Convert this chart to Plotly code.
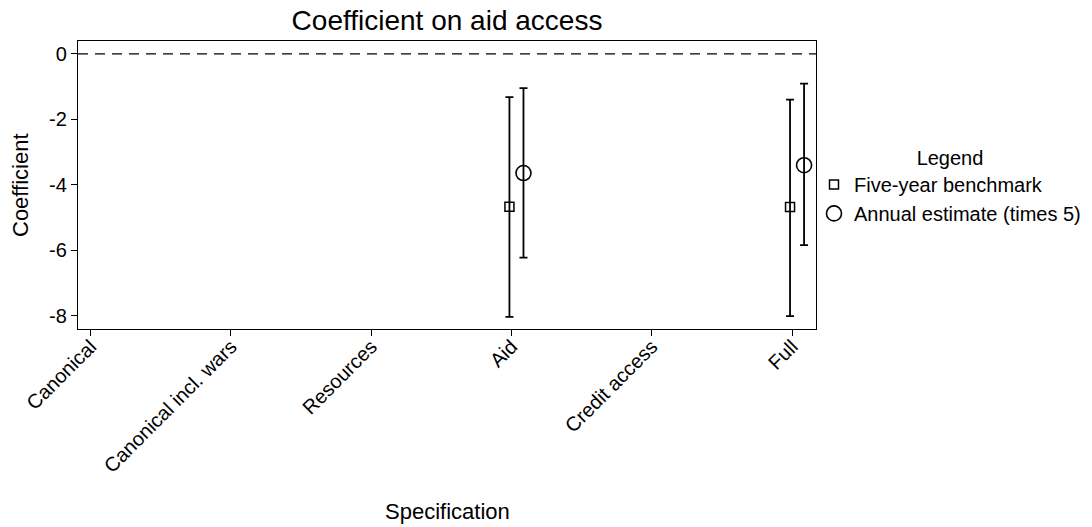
import plotly.graph_objects as go

categories = ["Canonical", "Canonical incl. wars", "Resources", "Aid", "Credit access", "Full"]
five_year = [None, None, None, -4.67, None, -4.68]
five_year_lo = [None, None, None, -8.03, None, -8.01]
five_year_hi = [None, None, None, -1.32, None, -1.40]
annual = [None, None, None, -3.64, None, -3.40]
annual_lo = [None, None, None, -6.22, None, -5.84]
annual_hi = [None, None, None, -1.05, None, -0.91]
y_ticks = [0, -2, -4, -6, -8]

FONT = "Liberation Sans, Arial, Helvetica, sans-serif"

def errs(v, lo, hi):
    plus = [None if x is None else h - x for x, h in zip(v, hi)]
    minus = [None if x is None else x - l for x, l in zip(v, lo)]
    return plus, minus

idx = list(range(len(categories)))
fp, fm = errs(five_year, five_year_lo, five_year_hi)
ap, am = errs(annual, annual_lo, annual_hi)

fig = go.Figure()
fig.add_trace(go.Scatter(
    x=[i - 0.015 for i in idx], y=five_year, mode="markers",
    name="Five-year benchmark",
    marker=dict(symbol="square-open", size=9, color="black", line=dict(width=1.5, color="black")),
    error_y=dict(type="data", array=fp, arrayminus=fm, color="black", thickness=1.8, width=4),
))
fig.add_trace(go.Scatter(
    x=[i + 0.085 for i in idx], y=annual, mode="markers",
    name="Annual estimate (times 5)",
    marker=dict(symbol="circle-open", size=15, color="black", line=dict(width=1.6, color="black")),
    error_y=dict(type="data", array=ap, arrayminus=am, color="black", thickness=1.8, width=4),
))

fig.add_shape(type="line", xref="paper", x0=0, x1=1, yref="y", y0=0, y1=0,
              line=dict(color="black", width=1.3, dash="10px,7px"))

fig.add_annotation(text="Specification", xref="paper", yref="paper",
                   x=0.5, y=-(511 - 329) / 288, xanchor="center", yanchor="middle",
                   showarrow=False, font=dict(size=22))
fig.add_annotation(text="Coefficient", xref="paper", yref="paper",
                   x=(20 - 78) / 738, y=0.5, xanchor="center", yanchor="middle",
                   textangle=-90, showarrow=False, font=dict(size=22))

fig.update_layout(
    width=1092, height=527,
    margin=dict(l=78, r=276, t=41, b=198, autoexpand=False),
    paper_bgcolor="white", plot_bgcolor="white",
    font=dict(family=FONT, size=20, color="black"),
    title=dict(text="Coefficient on aid access", x=447/1092, xanchor="center",
               y=1 - 20/527, yanchor="middle", font=dict(size=28)),
    showlegend=True,
    legend=dict(x=814/1092, xref="container", xanchor="left", y=0.66, yanchor="top",
                title=dict(text="Legend", side="top center", font=dict(size=20)),
                font=dict(size=20), bgcolor="rgba(0,0,0,0)", itemsizing="trace",
                tracegroupgap=4),
)
fig.update_xaxes(
    range=[-0.09, 5.17], tickvals=idx, ticktext=categories, tickangle=-45,
    showgrid=False, zeroline=False, showline=True, linecolor="black", linewidth=1.2,
    mirror=True, ticks="outside", ticklen=6, tickcolor="black",
    tickfont=dict(size=20), ticklabelstandoff=-9,
    automargin=False,
)
fig.update_yaxes(
    range=[-8.4, 0.39], tickvals=y_ticks, ticktext=[str(v) for v in y_ticks],
    showgrid=False, zeroline=False, showline=True, linecolor="black", linewidth=1.2,
    mirror=True, ticks="outside", ticklen=6, tickcolor="black",
    tickfont=dict(size=20),
    automargin=False,
)

fig.write_html("out.html")
